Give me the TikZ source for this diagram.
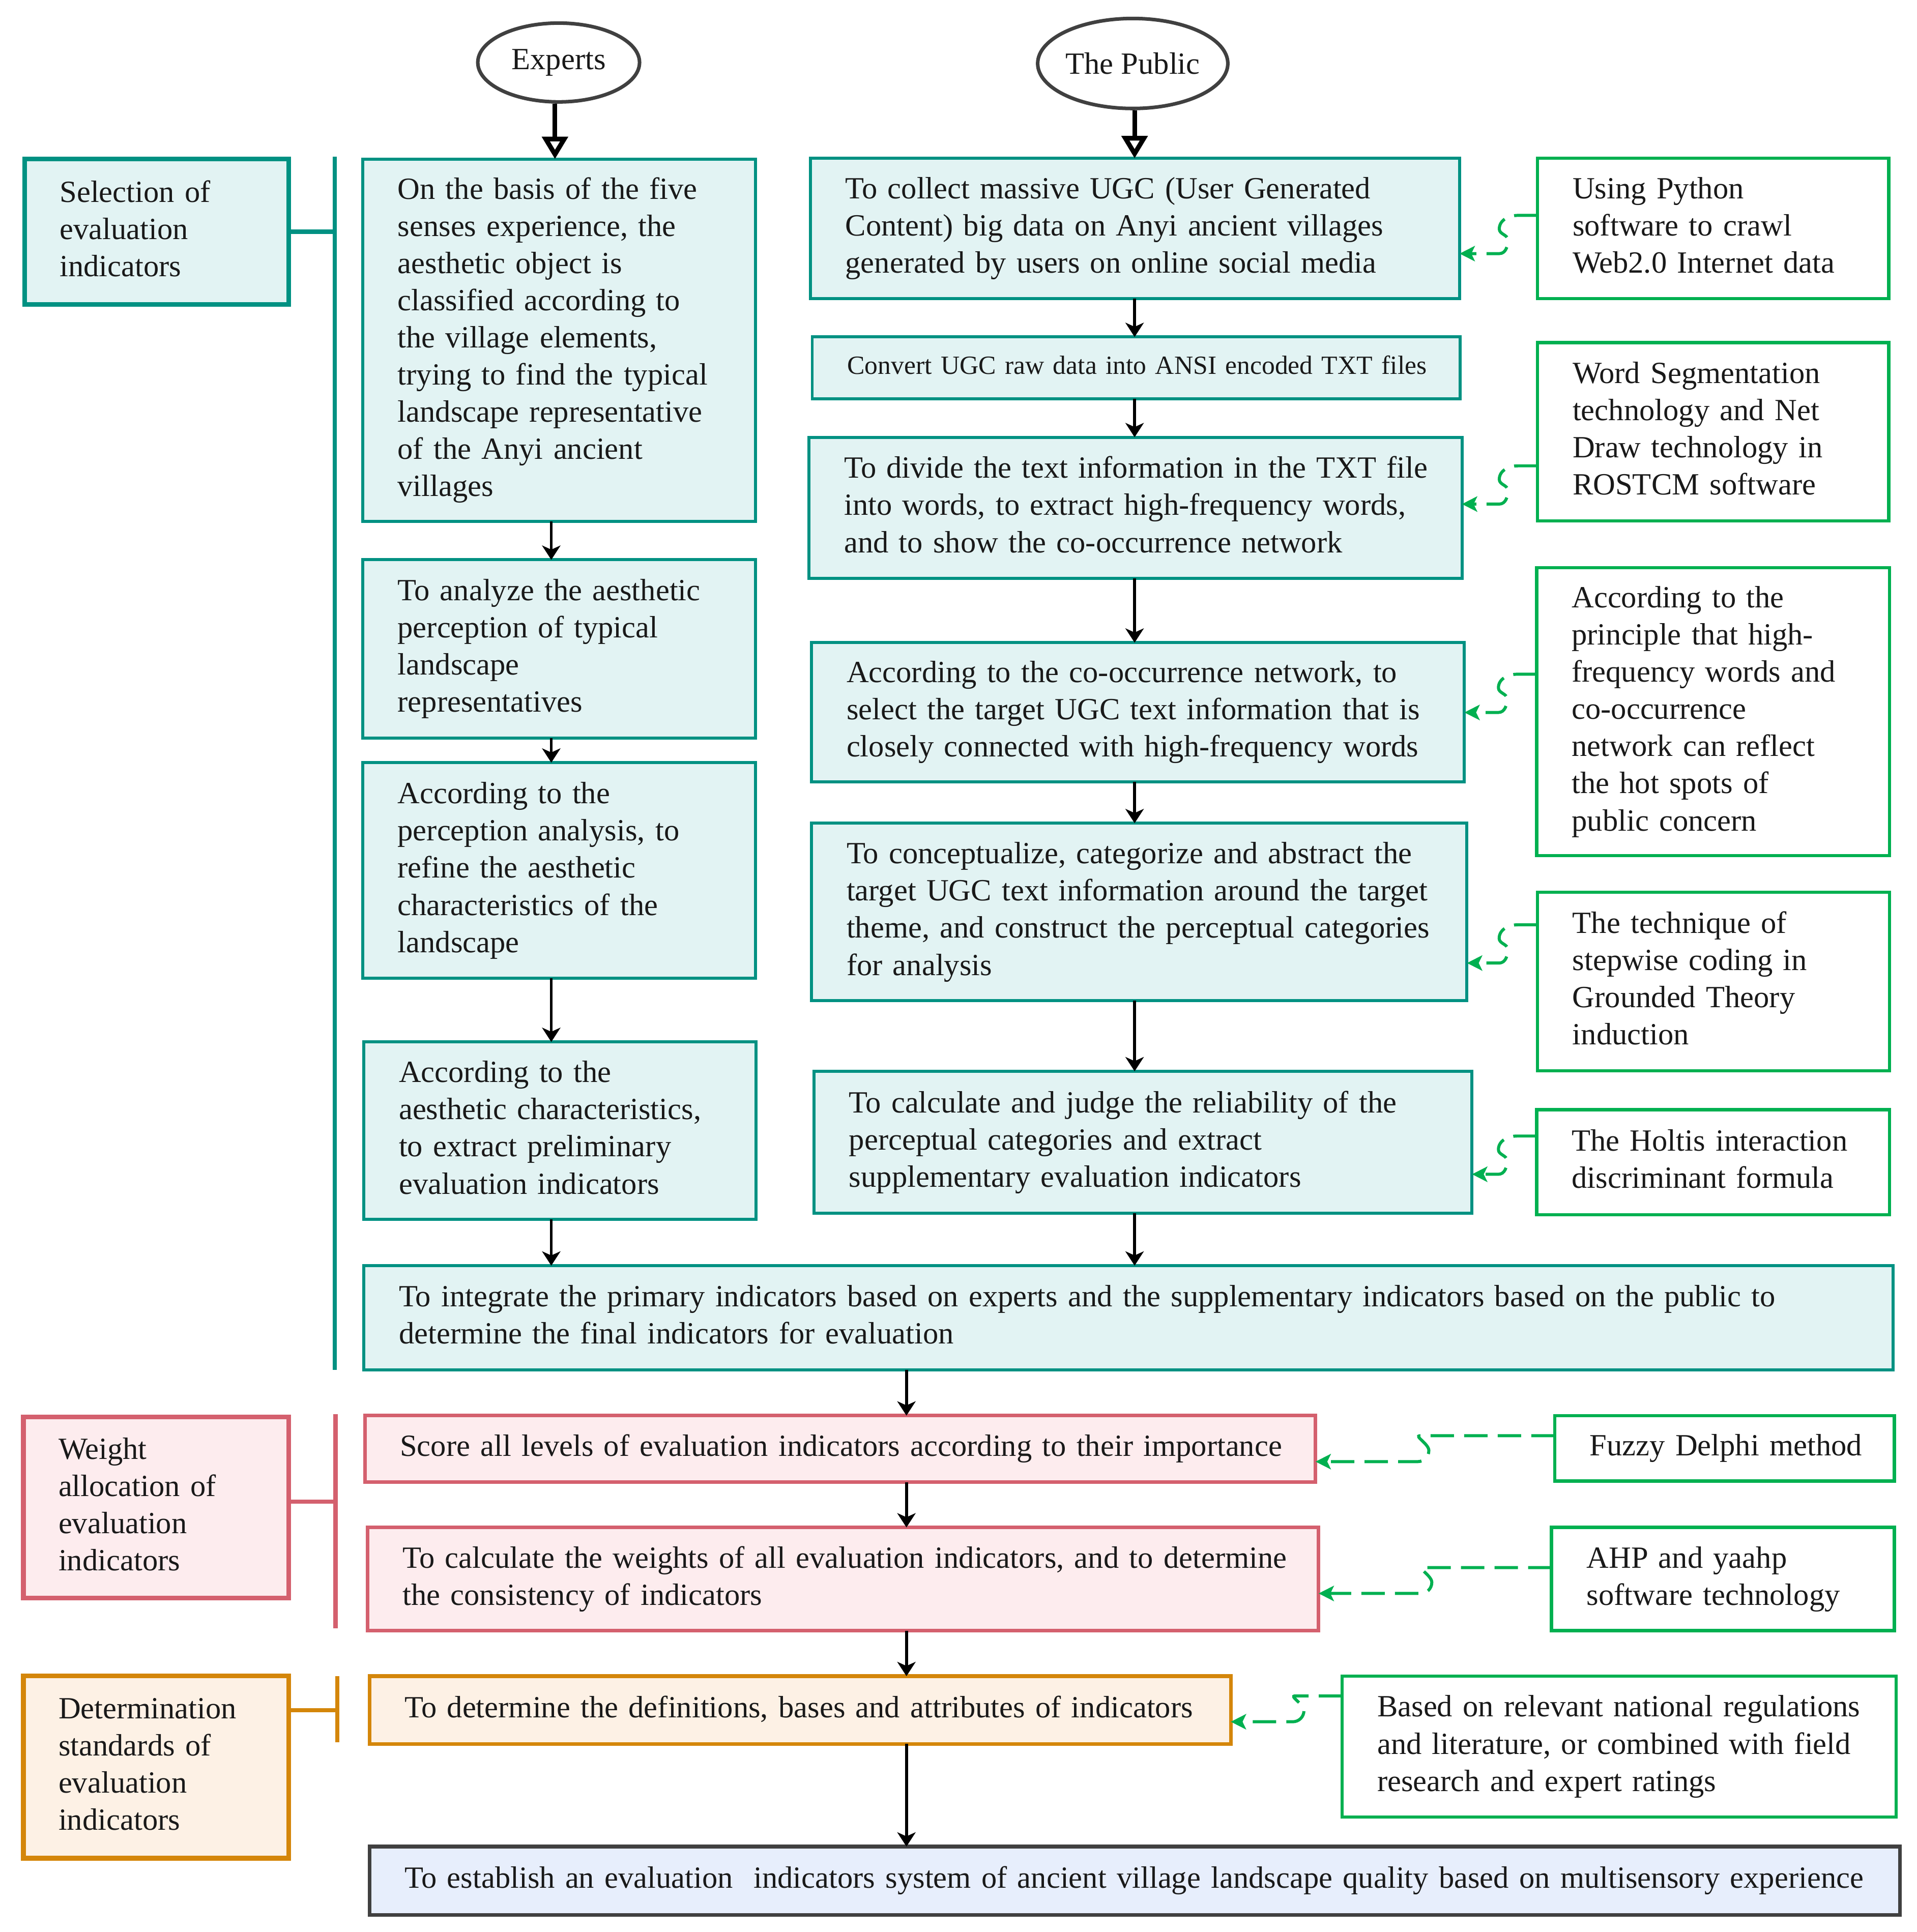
\documentclass[tikz,border=0pt]{standalone}
\usepackage{fontspec}
\setmainfont{Liberation Serif}
\usetikzlibrary{arrows.meta,calc,shapes.geometric}
\definecolor{tealb}{RGB}{0,145,130}
\definecolor{tealf}{RGB}{226,243,243}
\definecolor{grn}{RGB}{0,176,80}
\definecolor{redb}{RGB}{212,96,110}
\definecolor{redf}{RGB}{253,236,238}
\definecolor{orab}{RGB}{212,134,10}
\definecolor{oraf}{RGB}{253,241,229}
\definecolor{finb}{RGB}{64,64,64}
\definecolor{finf}{RGB}{231,238,252}
\definecolor{txt}{RGB}{25,25,25}
\def\H{1566.8}
\newcommand\lns[1]{\begin{tabular}{@{}l@{}}#1\end{tabular}}
\newcommand\mkbox[7]{%
  \pgfmathsetmacro\bxw{(#5-#3)*0.02424}%
  \pgfmathsetmacro\bxh{(#6-#4)*0.02424}%
  \pgfmathsetmacro\bxtw{(#5-#3)*0.02424-1.38}%
  \pgfmathsetmacro\bxcx{(#3+#5)/2}%
  \pgfmathsetmacro\bxcy{1566.8-(#4+#6)/2}%
  \node[#2, minimum width=\bxw cm, minimum height=\bxh cm, text width=\bxtw cm] (#1) at (\bxcx,\bxcy) {\lns{#7}};}
\newcommand\gup[3]{\draw[gconn] ($(#1.west)+(0,#3)$) -- ++(-16,0) to[out=180,in=90] ++(-15,-11) to[out=-90,in=90] ++(7,-9) to[out=-90,in=0] ++(-7,-11) coordinate (gc) -- (gc -| #2.east);}
\newcommand\glow[4]{\draw[gconn] ($(#1.west)+(0,#3)$) -- ++(-#4,0) to[out=180,in=90] ++(7,-12) to[out=-90,in=0] ++(-9,-9) coordinate (gc) -- (gc -| #2.east);}
\tikzset{
  box/.style={inner xsep=0.69cm, inner ysep=0.05cm, align=left, outer sep=0pt,
    font=\fontsize{17.25}{20.8}\selectfont, text=txt},
  tbox/.style={box, draw=tealb, fill=tealf, line width=1.7pt},
  cbox/.style={box, line width=2.6pt},
  gbox/.style={box, draw=grn, fill=white, line width=1.8pt},
  rbox/.style={box, draw=redb, fill=redf, line width=2pt},
  obox/.style={box, draw=orab, fill=oraf, line width=2pt},
  fbox/.style={box, draw=finb, fill=finf, line width=2pt},
  ell/.style={ellipse, draw=finb, line width=2pt, fill=white, inner sep=0pt,
    font=\fontsize{17.25}{20.8}\selectfont, text=txt},
  arr/.style={draw=black, line width=1.6pt, -{Stealth[length=0.28cm,width=0.36cm,inset=0.08cm]}},
  oarr/.style={draw=black, line width=2.6pt, -{Triangle[open,length=0.44cm,width=0.5cm]}},
  gconn/.style={draw=grn, line width=1.7pt, dash pattern=on 0.46cm off 0.2cm,
    -{Stealth[length=0.3cm,width=0.3cm,inset=0.07cm]}},
  teall/.style={draw=tealb, line width=2.4pt},
  redl/.style={draw=redb, line width=2.4pt},
  oral/.style={draw=orab, line width=2.4pt},
}
\begin{document}
\begin{tikzpicture}[x=0.02424cm, y=0.02424cm]
\fill[white] (0,0) rectangle (1554.1,1566.8);
\useasboundingbox (0,0) rectangle (1554.1,1566.8);

% ellipses
\node[ell, minimum width=3.18cm, minimum height=1.55cm] (ex) at (453,{\H-50.7}) {Experts};
\node[ell, minimum width=3.66cm, minimum height=1.77cm] (pu) at (918.5,{\H-51.5}) {The Public};

% category boxes
\mkbox{sel}{cbox,draw=tealb,fill=tealf}{20}{129}{234}{247}{Selection of\\evaluation\\indicators}
\mkbox{wgt}{cbox,draw=redb,fill=redf}{19}{1149}{234}{1296}{Weight\\allocation of\\evaluation\\indicators}
\mkbox{det}{cbox,draw=orab,fill=oraf}{19}{1359}{234}{1507}{Determination\\standards of\\evaluation\\indicators}

% experts column
\mkbox{e1}{tbox}{294}{129}{612.5}{423}{On the basis of the five\\senses experience, the\\aesthetic object is\\classified according to\\the village elements,\\trying to find the typical\\landscape representative\\of the Anyi ancient\\villages}
\mkbox{e2}{tbox}{294}{454}{612.5}{598.5}{To analyze the aesthetic\\perception of typical\\landscape\\representatives}
\mkbox{e3}{tbox}{294}{618.5}{612.5}{793.5}{According to the\\perception analysis, to\\refine the aesthetic\\characteristics of the\\landscape}
\mkbox{e4}{tbox}{295}{845}{613}{989}{According to the\\aesthetic characteristics,\\to extract preliminary\\evaluation indicators}

% public column
\mkbox{p1}{tbox}{657}{128.4}{1183.5}{242}{To collect massive UGC (User Generated\\Content) big data on Anyi ancient villages\\generated by users on online social media}
\mkbox{p2}{tbox,font=\fontsize{14.7}{18}\selectfont}{658.6}{273.3}{1183.8}{323.5}{Convert UGC raw data into ANSI encoded TXT files}
\mkbox{p3}{tbox}{656}{354.6}{1185.4}{469.1}{To divide the text information in the TXT file\\into words, to extract high-frequency words,\\and to show the co-occurrence network}
\mkbox{p4}{tbox}{658}{521.2}{1187.4}{634}{According to the co-occurrence network, to\\select the target UGC text information that is\\closely connected with high-frequency words}
\mkbox{p5}{tbox}{658}{667.6}{1189.5}{811.6}{To conceptualize, categorize and abstract the\\target UGC text information around the target\\theme, and construct the perceptual categories\\for analysis}
\mkbox{p6}{tbox}{660}{868.8}{1193.6}{984}{To calculate and judge the reliability of the\\perceptual categories and extract\\supplementary evaluation indicators}

% method boxes
\mkbox{m1}{gbox}{1246.7}{128.4}{1531.5}{242.2}{Using Python\\software to crawl\\Web2.0 Internet data}
\mkbox{m2}{gbox}{1246.7}{277.8}{1531.5}{422.4}{Word Segmentation\\technology and Net\\Draw technology in\\ROSTCM software}
\mkbox{m3}{gbox}{1246}{460.4}{1532}{694}{According to the\\principle that high-\\frequency words and\\co-occurrence\\network can reflect\\the hot spots of\\public concern}
\mkbox{m4}{gbox}{1246.6}{723.6}{1532}{868.4}{The technique of\\stepwise coding in\\Grounded Theory\\induction}
\mkbox{m5}{gbox}{1246}{900}{1532}{985}{The Holtis interaction\\discriminant formula}

% integration
\mkbox{int}{tbox}{295}{1026.4}{1535}{1111}{To integrate the primary indicators based on experts and the supplementary indicators based on the public to\\determine the final indicators for evaluation}

% weights
\mkbox{r1}{rbox}{295.9}{1148}{1066.7}{1202}{Score all levels of evaluation indicators according to their importance}
\mkbox{r2}{rbox}{298}{1238.7}{1069.2}{1322.4}{To calculate the weights of all evaluation indicators, and to determine\\the consistency of indicators}
\mkbox{m6}{gbox}{1260.6}{1148}{1536.1}{1201.1}{Fuzzy Delphi method}
\mkbox{m7}{gbox}{1258}{1238.7}{1536.1}{1322.4}{AHP and yaahp\\software technology}

% standards
\mkbox{o1}{obox}{299.7}{1359.3}{998}{1414.3}{To determine the definitions, bases and attributes of indicators}
\mkbox{m8}{gbox}{1088.3}{1359.3}{1537.5}{1473.5}{Based on relevant national regulations\\and literature, or combined with field\\research and expert ratings}

% final
\mkbox{fin}{fbox}{299.7}{1497.5}{1540.4}{1553}{To establish an evaluation~ indicators system of ancient village landscape quality based on multisensory experience}

% bracket lines
\coordinate (tl1) at (271.5,{\H-127});
\coordinate (tl2) at (271.5,{\H-1111});
\draw[teall] (tl1) -- (tl2);
\draw[teall] (sel.east) -- (sel.east -| tl1);
\coordinate (rl1) at (272,{\H-1147});
\coordinate (rl2) at (272,{\H-1320.4});
\coordinate (rlj) at (272,{\H-1217.8});
\draw[redl] (rl1) -- (rl2);
\draw[redl] (rlj -| wgt.east) -- (rlj);
\coordinate (ol1) at (273.6,{\H-1359.3});
\coordinate (ol2) at (273.6,{\H-1412.9});
\coordinate (olj) at (273.6,{\H-1387});
\draw[oral] (ol1) -- (ol2);
\draw[oral] (olj -| det.east) -- (olj);

% columns for arrows
\coordinate (xcol) at (450,0);
\coordinate (ecol) at (447,0);
\coordinate (pcol) at (920,0);
\coordinate (lcol) at (735,0);

\draw[oarr] (ex.south -| xcol) -- (e1.north -| xcol);
\draw[oarr] (pu.south -| pcol) -- (p1.north -| pcol);

\draw[arr] (e1.south -| ecol) -- (e2.north -| ecol);
\draw[arr] (e2.south -| ecol) -- (e3.north -| ecol);
\draw[arr] (e3.south -| ecol) -- (e4.north -| ecol);
\draw[arr] (e4.south -| ecol) -- (int.north -| ecol);

\draw[arr] (p1.south -| pcol) -- (p2.north -| pcol);
\draw[arr] (p2.south -| pcol) -- (p3.north -| pcol);
\draw[arr] (p3.south -| pcol) -- (p4.north -| pcol);
\draw[arr] (p4.south -| pcol) -- (p5.north -| pcol);
\draw[arr] (p5.south -| pcol) -- (p6.north -| pcol);
\draw[arr] (p6.south -| pcol) -- (int.north -| pcol);

\draw[arr] (int.south -| lcol) -- (r1.north -| lcol);
\draw[arr] (r1.south -| lcol) -- (r2.north -| lcol);
\draw[arr] (r2.south -| lcol) -- (o1.north -| lcol);
\draw[arr] (o1.south -| lcol) -- (fin.north -| lcol);

% green dashed connectors
\gup{m1}{p1}{10.6}
\gup{m2}{p3}{-27.7}
\gup{m3}{p4}{30.4}
\gup{m4}{p5}{46}
\gup{m5}{p6}{21.2}
\glow{m6}{r1}{10.2}{109}
\glow{m7}{r2}{9.3}{104}
\glow{m8}{o1}{41.1}{38}
\end{tikzpicture}
\end{document}
